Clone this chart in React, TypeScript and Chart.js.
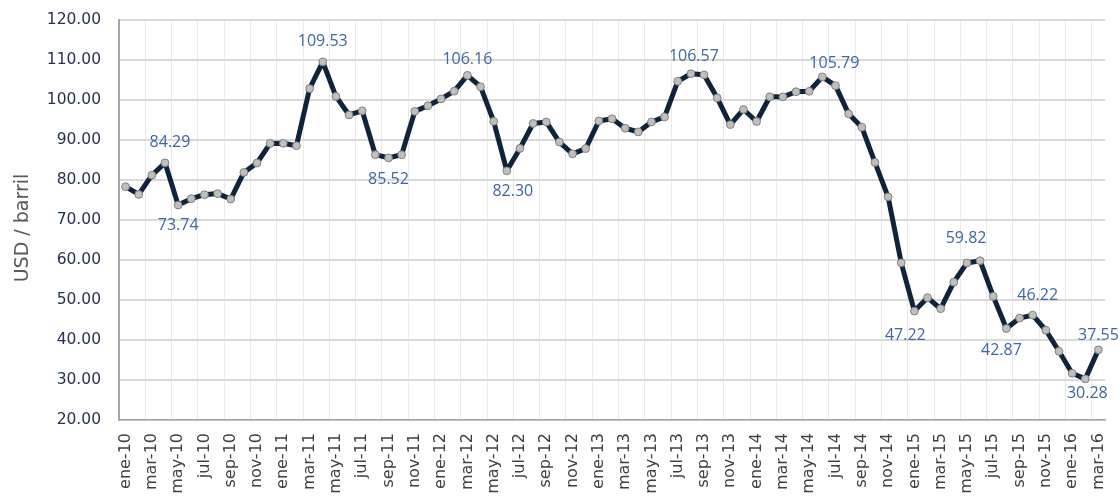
import React, { useEffect, useRef } from 'react';
import { Chart, registerables } from 'chart.js';

Chart.register(...registerables);

// Category labels (monthly, Spanish abbreviations)
const monthNames = ['ene', 'feb', 'mar', 'abr', 'may', 'jun', 'jul', 'ago', 'sep', 'oct', 'nov', 'dic'];
const yearSuffixes = ['10', '11', '12', '13', '14', '15', '16'];
const categories: string[] = [];
yearSuffixes.forEach((y) => monthNames.forEach((m) => categories.push(`${m}-${y}`)));
categories.splice(75); // ene-10 .. mar-16

// Series values (USD / barril)
const price2010 = [78.33, 76.39, 81.2, 84.29, 73.74, 75.34, 76.32, 76.6, 75.24, 81.89, 84.25, 89.15];
const price2011 = [89.17, 88.58, 102.86, 109.53, 100.9, 96.26, 97.3, 86.33, 85.52, 86.32, 97.16, 98.56];
const price2012 = [100.27, 102.2, 106.16, 103.32, 94.66, 82.3, 87.9, 94.13, 94.51, 89.49, 86.53, 87.86];
const price2013 = [94.76, 95.31, 92.94, 92.02, 94.51, 95.77, 104.67, 106.57, 106.29, 100.54, 93.86, 97.63];
const price2014 = [94.62, 100.82, 100.8, 102.07, 102.18, 105.79, 103.59, 96.54, 93.21, 84.4, 75.79, 59.29];
const price2015 = [47.22, 50.58, 47.82, 54.45, 59.27, 59.82, 50.9, 42.87, 45.48, 46.22, 42.44, 37.19];
const price2016 = [31.68, 30.28, 37.55];
const prices = [...price2010, ...price2011, ...price2012, ...price2013, ...price2014, ...price2015, ...price2016];

// Y axis ticks
const yMin = 20;
const yMax = 120;
const yStep = 10;

// Indices of points carrying a value label
const labeledIndices = [3, 4, 15, 20, 26, 29, 43, 53, 60, 65, 67, 69, 73, 74];

// Label placement relative to the point (layout only)
const labelOffsets: Record<number, [number, number]> = {
  3: [5, -20],
  4: [0, 20],
  15: [0, -20],
  20: [0, 22],
  26: [0, -16],
  29: [6, 21],
  43: [3, -17],
  53: [12, -13],
  60: [-9, 24],
  65: [-14, -22],
  67: [-5, 22],
  69: [5, -20],
  73: [2, 15],
  74: [0, -14],
};

const valueLabelPlugin = {
  id: 'valueLabels',
  afterDatasetsDraw(chart: any) {
    const meta = chart.getDatasetMeta(0);
    const ctx = chart.ctx;
    ctx.save();
    ctx.font = '16px "Open Sans"';
    ctx.fillStyle = '#3d66a2';
    ctx.textAlign = 'center';
    ctx.textBaseline = 'middle';
    labeledIndices.forEach((i) => {
      const pt = meta.data[i];
      if (!pt) return;
      const [dx, dy] = labelOffsets[i] || [0, -18];
      ctx.fillText(prices[i].toFixed(2), pt.x + dx, pt.y + dy);
    });
    ctx.restore();
  },
};

const yTitlePlugin = {
  id: 'yTitle',
  afterDraw(chart: any) {
    const ctx = chart.ctx;
    const area = chart.chartArea;
    ctx.save();
    ctx.translate(23, (area.top + area.bottom) / 2 + 8);
    ctx.rotate(-Math.PI / 2);
    ctx.font = '19px "DejaVu Sans"';
    ctx.fillStyle = '#595959';
    ctx.textAlign = 'center';
    ctx.textBaseline = 'middle';
    ctx.fillText('USD / barril', 0, 0);
    ctx.restore();
  },
};

export default function App() {
  const canvasRef = useRef<HTMLCanvasElement | null>(null);

  useEffect(() => {
    document.body.style.margin = '0';
    const canvas = canvasRef.current;
    if (!canvas) return;
    const chart = new Chart(canvas, {
      type: 'line',
      data: {
        labels: categories,
        datasets: [
          {
            data: prices,
            borderColor: '#0f233d',
            borderWidth: 5,
            borderJoinStyle: 'round',
            borderCapStyle: 'round',
            tension: 0,
            pointRadius: 3.9,
            pointHoverRadius: 3.9,
            pointBackgroundColor: '#bfbfbf',
            pointBorderColor: '#7f7f7f',
            pointBorderWidth: 1,
            fill: false,
          },
        ],
      },
      options: {
        responsive: false,
        animation: false,
        devicePixelRatio: 1,
        layout: { padding: { left: 0, top: 20, right: 15, bottom: 0 } },
        plugins: {
          legend: { display: false },
          tooltip: { enabled: false },
          title: { display: false },
        },
        scales: {
          x: {
            type: 'category',
            offset: true,
            afterFit: (scale: any) => {
              scale.height = 76;
              scale.paddingLeft = 0;
              scale.paddingRight = 0;
              scale.paddingTop = 0;
              scale.paddingBottom = 0;
            },
            grid: {
              offset: true,
              drawTicks: false,
              lineWidth: 1,
              color: (ctx: any) =>
                typeof ctx.index === 'number' && ctx.index > 0 && ctx.index % 2 === 0 ? '#e9e9e9' : 'rgba(0,0,0,0)',
            },
            border: { display: true, color: '#a6a6a6', width: 1.5 },
            ticks: {
              autoSkip: false,
              maxRotation: 90,
              minRotation: 90,
              padding: 13,
              color: '#404040',
              font: { family: '"DejaVu Sans"', size: 16 },
              callback: (_v: any, i: number) => (i % 2 === 0 ? categories[i] : ''),
            },
          },
          y: {
            min: yMin,
            max: yMax,
            afterFit: (scale: any) => {
              scale.width = 119;
              scale.paddingTop = 0;
              scale.paddingBottom = 0;
              scale.paddingLeft = 0;
              scale.paddingRight = 0;
            },
            grid: {
              drawTicks: false,
              color: '#d9d9d9',
              lineWidth: 2,
            },
            border: { display: true, color: '#a6a6a6', width: 2 },
            ticks: {
              stepSize: yStep,
              padding: 18,
              color: '#253350',
              font: { family: '"DejaVu Sans"', size: 15.5 },
              callback: (v: any) => Number(v).toFixed(2),
            },
          },
        },
      },
      plugins: [valueLabelPlugin, yTitlePlugin],
    });
    return () => chart.destroy();
  }, []);

  return (
    <div style={{ width: 1120, height: 496, background: '#ffffff' }}>
      <canvas ref={canvasRef} width={1120} height={496} style={{ display: 'block' }} />
    </div>
  );
}
